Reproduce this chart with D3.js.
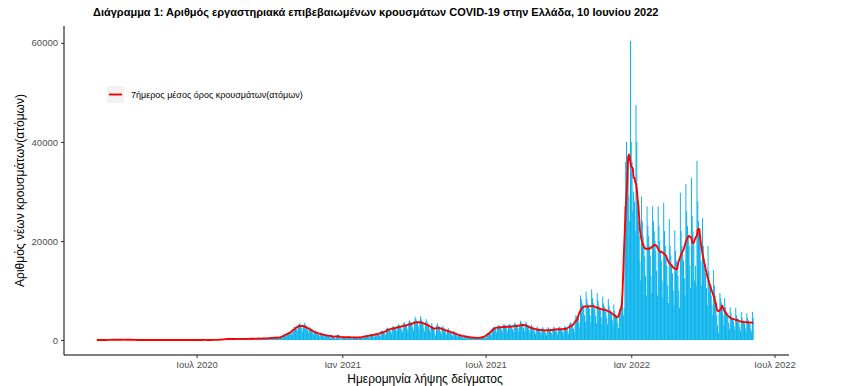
<!DOCTYPE html>
<html>
<head>
<meta charset="utf-8">
<script src="https://cdn.jsdelivr.net/npm/d3@7"></script>
<style>
  body { margin: 0; background: #fff; }
  text { font-family: "Liberation Sans", Arial, sans-serif; }
</style>
</head>
<body>
<svg id="svg" width="842" height="386"></svg>
<script>
// daily new cases, one value per day starting 26 Feb 2020
const firstDay = new Date(2020, 1, 26)

const cases2020 = [
  1, 2, 1, 3,
  3, 0, 1, 3, 14, 13, 13, 7, 11, 11, 28, 9, 99, 38, 38, 21, 56, 31, 46, 97, 89, 94, 71, 48, 48, 74, 71, 78, 95, 102, 49,
  58, 50, 129, 62, 60, 62, 20, 56, 84, 79, 42, 24, 25, 15, 52, 23, 34, 22, 10, 13, 16, 17, 23, 30, 11, 15, 6, 1, 14, 17,
  12, 21, 6, 11, 9, 10, 11, 4, 9, 3, 0, 10, 12, 12, 7, 9, 6, 2, 10, 4, 18, 3, 5, 19, 3, 6, 2, 11, 11, 5, 3,
  2, 13, 23, 12, 4, 13, 7, 2, 3, 10, 3, 7, 4, 7, 10, 3, 15, 97, 12, 6, 18, 12, 15, 4, 12, 7, 15,
  14, 8, 13, 9, 7, 12, 10, 14, 14, 28, 15, 21, 27, 23, 37, 29, 18, 24, 13, 18, 14, 22, 24, 26, 33, 28, 26, 25, 17, 34, 39,
  110, 38, 45, 110, 80, 121, 124, 151, 203, 150, 262, 262, 204, 254, 230, 148, 217, 269, 250, 168, 284, 228, 215, 169, 256, 293, 250, 226, 217, 169, 294,
  157, 259, 226, 263, 220, 211, 122, 268, 246, 305, 245, 341, 217, 185, 211, 341, 291, 342, 388, 206, 183, 301, 453, 345, 280, 255, 215, 302, 397, 412,
  460, 320, 296, 232, 343, 497, 528, 473, 510, 338, 333, 574, 482, 501, 494, 443, 520, 429, 509, 658, 837, 1103, 1012, 935, 946, 1165, 1205, 1557, 1617, 1631, 1540,
  1080, 1650, 2180, 2650, 2640, 2450, 2170, 1800, 2850, 3150, 3300, 3320, 3010, 2400, 1700, 2800, 3500, 3200, 2950, 2600, 2010, 1450, 2310, 2680, 2420, 2200, 1950, 1580, 1050, 1700,
  1900, 1750, 1550, 1400, 1050, 750, 1300, 1500, 1400, 1250, 1100, 900, 550, 1000, 1200, 1050, 950, 850, 700, 420, 800, 1050, 950, 850, 450, 350, 300, 900, 1150, 1000, 900
]

const cases2021 = [
  500, 350, 250, 650, 800, 700, 600, 550, 420, 300, 700, 750, 650, 600, 500, 380, 280, 650, 700, 600, 550, 480, 350, 250, 600, 700, 650, 620, 580, 450, 330,
  850, 950, 900, 880, 820, 620, 420, 1100, 1200, 1150, 1100, 1050, 800, 550, 1350, 1450, 1400, 1350, 1250, 950, 700, 1750, 1900, 1850, 1700, 1600, 1250, 900,
  2300, 2500, 2400, 2300, 2200, 1800, 1300, 2600, 2800, 2700, 2600, 2500, 2000, 1500, 2900, 3200, 3000, 2900, 2800, 2100, 1600, 3300, 3600, 3400, 3200, 3000, 2300, 1700, 3600, 4000, 3700,
  3500, 3300, 2600, 1900, 3800, 4700, 4300, 3900, 3600, 2800, 2000, 3900, 4800, 4200, 3800, 3400, 2500, 1700, 3600, 4200, 3700, 3300, 3000, 2200, 1500, 2800, 3400, 2900, 2600, 2200,
  1500, 900, 2900, 3400, 3000, 2700, 2400, 1700, 1200, 2600, 2900, 2500, 2200, 2000, 1500, 1000, 2100, 2400, 2000, 1800, 1600, 1200, 800, 1700, 1900, 1600, 1400, 1200, 900, 600, 1200,
  1300, 1100, 1000, 850, 600, 400, 900, 950, 850, 750, 650, 450, 300, 700, 700, 600, 550, 480, 330, 230, 550, 600, 520, 480, 420, 300, 220, 560, 650, 620,
  700, 750, 550, 400, 1000, 1300, 1400, 1500, 1600, 1300, 900, 2000, 2400, 2600, 2700, 2600, 2100, 1500, 2700, 3000, 2900, 2800, 2700, 2100, 1500, 2900, 3200, 3100, 2900, 2800, 2200,
  1600, 3000, 3300, 3100, 2900, 2800, 2200, 1600, 3200, 3500, 3300, 3100, 2900, 2400, 1700, 2900, 3900, 3600, 3300, 3100, 2500, 1800, 3300, 3700, 3400, 3000, 2700, 2100, 1500, 2800, 3100,
  2700, 2500, 2300, 1800, 1200, 2400, 2700, 2500, 2200, 2000, 1600, 1100, 2300, 2600, 2300, 2100, 2000, 1500, 1000, 2200, 2600, 2400, 2200, 2000, 1500, 1000, 2300, 2700, 2500, 2300,
  2300, 1700, 1100, 2500, 2700, 2600, 2400, 2300, 1700, 1100, 2500, 2800, 2700, 2500, 2400, 1800, 1200, 3200, 3600, 3400, 3200, 3000, 2300, 1600, 4200, 5000, 4800, 4600, 4400, 3600, 2500,
  9000, 8200, 7400, 6900, 6500, 5000, 3600, 9800, 8300, 7400, 6900, 6400, 5000, 3500, 10200, 8500, 7500, 6900, 6300, 4900, 3400, 9500, 8000, 7000, 6500, 6000, 4600, 3200, 8800, 7400,
  6800, 6300, 5800, 4500, 3200, 8300, 6900, 6200, 5700, 5300, 4100, 2900, 7200, 5900, 5200, 4800, 4400, 3400, 2400, 6000, 6500, 7000, 8000, 9000, 5000, 6500, 27000, 36000, 40000, 34000, 35000
]

const cases2022 = [
  29000, 24000, 60400, 40000, 36000, 26000, 30000, 28000, 22000, 47500, 40000, 30000, 24000, 21000, 16000, 12000, 29000, 24000, 21000, 19000, 17000, 13000, 9000, 27000, 23000, 21000, 19000, 17000, 13000, 9500, 27000,
  24000, 22000, 20000, 18000, 14000, 9000, 27000, 23000, 20000, 18000, 16000, 12000, 8500, 27700, 22000, 19000, 17000, 15000, 11000, 7500, 24400, 19000, 17000, 15000, 13500, 10000, 7000, 22100,
  18000, 16000, 14500, 13000, 10000, 6500, 29750, 22000, 19000, 17500, 16000, 12500, 9000, 31500, 26000, 23000, 21000, 19000, 15000, 10500, 32800, 25000, 22000, 20000, 12000, 15000, 11000, 36200, 28000, 24000, 22000,
  20000, 16000, 11000, 24600, 19000, 16500, 15000, 13500, 10500, 7000, 19000, 14000, 12000, 10500, 9000, 7000, 5000, 14100, 11000, 9000, 7500, 5000, 3000, 1500, 6000, 9500, 8500, 7500, 6500, 5000,
  3000, 8500, 6600, 5800, 5200, 4700, 3500, 2200, 6600, 5500, 4800, 4300, 3900, 2800, 2000, 6500, 5000, 4400, 4000, 3600, 2600, 1900, 5700, 4600, 4000, 3700, 3300, 2400, 1800, 5450, 4500,
  4000, 3600, 3200, 2300, 1700, 5700, 4500
]

const tickDates = [new Date(2020, 6, 1), new Date(2021, 0, 1), new Date(2021, 6, 1), new Date(2022, 0, 1), new Date(2022, 6, 1)]
const tickLabels = ["Ιουλ 2020", "Ιαν 2021", "Ιουλ 2021", "Ιαν 2022", "Ιουλ 2022"]
const yTicks = [0, 20000, 40000, 60000]

const titleText = "Διάγραμμα 1: Αριθμός εργαστηριακά επιβεβαιωμένων κρουσμάτων COVID-19 στην Ελλάδα, 10 Ιουνίου 2022"
const legendText = "7ήμερος μέσος όρος κρουσμάτων(ατόμων)"

const values = cases2020.concat(cases2021, cases2022)
const data = values.map((v, i) => ({date: d3.timeDay.offset(firstDay, i), value: v}))

// centred 7 day mean, shorter window at the ends
const avg = data.map((d, i) => {
  const win = values.slice(Math.max(0, i - 3), Math.min(values.length, i + 4))
  return {date: d.date, value: d3.mean(win)}
})

const pLeft = 64, pRight = 786, pTop = 26, pBottom = 355

const first = data[0].date, last = data[data.length - 1].date
const pad = (last - first) * 0.05
const x = d3.scaleTime()
  .domain([new Date(+first - pad), new Date(+last + pad)])
  .range([pLeft, pRight])

const maxV = d3.max(values)
const y = d3.scaleLinear()
  .domain([-maxV * 0.05, maxV * 1.05])
  .range([pBottom, pTop])

const svg = d3.select("#svg")

const dayW = x(d3.timeDay.offset(first, 1)) - x(first)

svg.append("g")
  .selectAll("rect")
  .data(data)
  .enter().append("rect")
  .attr("x", d => x(d.date) - dayW * 0.6)
  .attr("width", dayW * 1.2)
  .attr("y", d => y(d.value))
  .attr("height", d => y(0) - y(d.value))
  .attr("fill", "#00b0ea")

svg.append("path")
  .datum(avg)
  .attr("fill", "none")
  .attr("stroke", "#ff0000")
  .attr("stroke-width", 1.9)
  .attr("stroke-linejoin", "round")
  .attr("d", d3.line().x(d => x(d.date)).y(d => y(d.value)))

// axes
const xAxis = svg.append("g")
  .attr("transform", "translate(0," + pBottom + ")")
  .call(d3.axisBottom(x).tickValues(tickDates).tickFormat((d, i) => tickLabels[i]).tickSize(3).tickPadding(3))
xAxis.select(".domain").attr("d", "M" + pLeft + ",0H" + (pRight + 3)).attr("stroke", "#000").attr("stroke-width", 1)
xAxis.selectAll(".tick line").attr("stroke", "#333")
xAxis.selectAll(".tick text").attr("fill", "#4d4d4d").style("font-size", "9.5px")

const yAxis = svg.append("g")
  .attr("transform", "translate(" + pLeft + ",0)")
  .call(d3.axisLeft(y).tickValues(yTicks).tickFormat(d3.format("d")).tickSize(3).tickPadding(3))
yAxis.select(".domain").attr("d", "M0," + pTop + "V" + pBottom).attr("stroke", "#000").attr("stroke-width", 1)
yAxis.selectAll(".tick line").attr("stroke", "#333")
yAxis.selectAll(".tick text").attr("fill", "#4d4d4d").style("font-size", "9.5px")

// titles
svg.append("text")
  .attr("x", 93).attr("y", 16)
  .style("font-size", "11px").style("font-weight", "bold")
  .text(titleText)

svg.append("text")
  .attr("x", (pLeft + pRight) / 2).attr("y", 383)
  .attr("text-anchor", "middle")
  .style("font-size", "12px")
  .text("Ημερομηνία λήψης δείγματος")

svg.append("text")
  .attr("transform", "translate(24," + ((pTop + pBottom) / 2) + ") rotate(-90)")
  .attr("text-anchor", "middle")
  .style("font-size", "12px")
  .text("Αριθμός νέων κρουσμάτων(ατόμων)")

// legend
const lg = svg.append("g").attr("transform", "translate(107,86)")
lg.append("rect").attr("width", 17).attr("height", 17).attr("fill", "#f2f2f2")
lg.append("line").attr("x1", 2).attr("x2", 15).attr("y1", 8.5).attr("y2", 8.5)
  .attr("stroke", "#ff0000").attr("stroke-width", 1.9)
lg.append("text").attr("x", 24).attr("y", 12)
  .style("font-size", "9px")
  .text(legendText)
</script>
</body>
</html>
